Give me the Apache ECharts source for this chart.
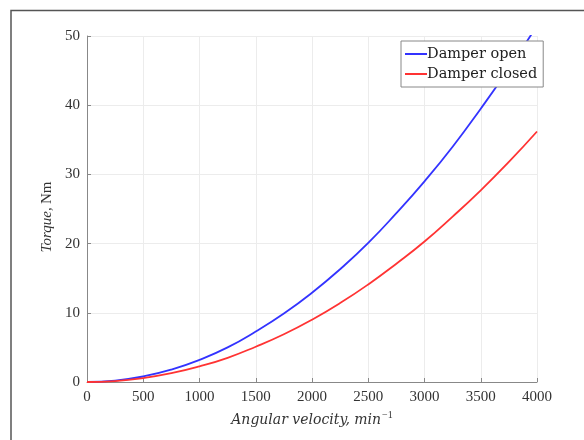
<!DOCTYPE html>
<html><head><meta charset="utf-8">
<script src="https://cdn.jsdelivr.net/npm/echarts@6/dist/echarts.min.js"></script>
<style>html,body{margin:0;padding:0;background:#fff}#c{width:584px;height:440px}</style>
</head><body><div id="c"></div>
<script>
const speeds = [0,250,500,750,1000,1250,1500,1750,2000,2250,2500,2750,3000,3250,3500,3750,4000];
const damperOpen = [0,0.2,0.8,1.8,3.2,5.0,7.3,9.9,12.9,16.3,20.1,24.4,29.0,34.0,39.5,45.3,51.5];
const damperClosed = [0,0.14,0.57,1.27,2.26,3.5,5.1,6.9,9.0,11.4,14.1,17.1,20.3,23.9,27.7,31.8,36.2];
const xTicks = [0,500,1000,1500,2000,2500,3000,3500,4000];
const yTicks = [0,10,20,30,40,50];
const seriesNames = ['Damper open','Damper closed'];

const font = 'Liberation Serif';
const wide = 'DejaVu Serif';
const chart = echarts.init(document.getElementById('c'));
chart.setOption({
  animation:false,
  backgroundColor:'#fff',
  graphic:[
    {type:'polyline',shape:{points:[[11,440],[11,10.5],[584,10.5]]},style:{stroke:'#555',lineWidth:1.5,fill:null}}
  ],
  grid:{left:87,right:47,top:36,bottom:58},
  legend:{
    data:seriesNames, orient:'vertical', left:401, top:41,
    itemWidth:22, itemHeight:2, itemGap:2, padding:[4,6,4,4],
    borderColor:'#888', borderWidth:1, backgroundColor:'#fff',
    icon:'rect',
    textStyle:{fontFamily:wide,fontSize:14.5,lineHeight:18,color:'#222',padding:[0,0,0,-5]}
  },
  xAxis:{
    type:'value', min:0, max:4000, interval:500,
    name:'{i|Angular velocity, min}{s|−1}', nameLocation:'middle', nameGap:27,
    nameTextStyle:{rich:{i:{fontFamily:wide,fontStyle:'italic',fontSize:14,color:'#333'},s:{fontFamily:font,fontSize:10,color:'#333',padding:[0,0,10,1]}}},
    axisLine:{lineStyle:{color:'#888'}},
    axisTick:{inside:true,length:4,lineStyle:{color:'#888'}},
    axisLabel:{fontFamily:font,fontSize:15,color:'#333',margin:8,formatter:v=>xTicks.includes(v)?String(v):''},
    splitLine:{lineStyle:{color:'#ececec'}}
  },
  yAxis:{
    type:'value', min:0, max:50, interval:10,
    name:'{i|Torque,} {n|Nm}', nameLocation:'middle', nameGap:24, nameRotate:90,
    nameTextStyle:{padding:[0,16,0,0],rich:{i:{fontFamily:font,fontStyle:'italic',fontSize:15,color:'#333'},n:{fontFamily:font,fontSize:15,color:'#333'}}},
    axisLine:{show:true,lineStyle:{color:'#888'}},
    axisTick:{show:true,inside:true,length:4,lineStyle:{color:'#888'}},
    axisLabel:{fontFamily:font,fontSize:15,color:'#333',margin:7,formatter:v=>yTicks.includes(v)?String(v):''},
    splitLine:{lineStyle:{color:'#ececec'}}
  },
  series:[
    {name:seriesNames[0],type:'line',smooth:true,showSymbol:false,clip:true,color:'#3333ff',lineStyle:{width:1.8,color:'#3333ff'},data:speeds.map((s,i)=>[s,damperOpen[i]])},
    {name:seriesNames[1],type:'line',smooth:true,showSymbol:false,clip:true,color:'#ff3333',lineStyle:{width:1.8,color:'#ff3333'},data:speeds.map((s,i)=>[s,damperClosed[i]])}
  ]
});
</script></body></html>
